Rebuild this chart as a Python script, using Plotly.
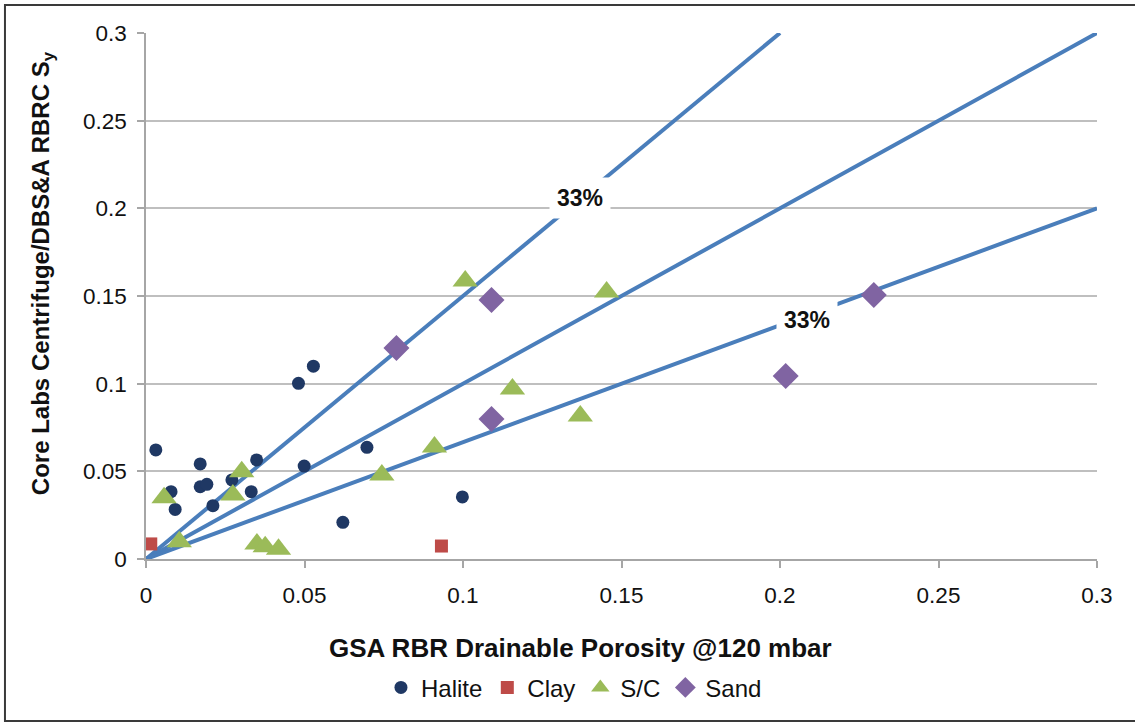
import plotly.graph_objects as go

# ---- data ----
halite_x = [0.0031, 0.0079, 0.0092, 0.0171, 0.0171, 0.0192, 0.0211, 0.0271, 0.0332, 0.0349,
            0.0481, 0.0528, 0.0499, 0.0621, 0.0697, 0.0998]
halite_y = [0.0622, 0.0384, 0.0283, 0.0542, 0.0412, 0.0426, 0.0304, 0.0451, 0.0384, 0.0565,
            0.1002, 0.1100, 0.0530, 0.0209, 0.0637, 0.0354]

clay_x = [0.0015, 0.0932]
clay_y = [0.0086, 0.0074]

sc_x = [0.0057, 0.0105, 0.0302, 0.0274, 0.0350, 0.0376, 0.0418, 0.0744, 0.0910, 0.1007,
        0.1156, 0.1370, 0.1453]
sc_y = [0.0350, 0.0099, 0.0498, 0.0365, 0.0086, 0.0070, 0.0055, 0.0479, 0.0639, 0.1586,
        0.0970, 0.0816, 0.1523]

sand_x = [0.0790, 0.1090, 0.1090, 0.2018, 0.2296]
sand_y = [0.1203, 0.1477, 0.0798, 0.1044, 0.1506]

# reference lines: 1:1 and +/-33% envelopes (end points)
line_upper_x = [0, 0.2]
line_upper_y = [0, 0.3]
line_mid_x = [0, 0.3]
line_mid_y = [0, 0.3]
line_lower_x = [0, 0.3]
line_lower_y = [0, 0.2]

label_text = "33%"
label_pos = [(0.137, 0.206), (0.2084, 0.1363)]

x_ticks = [0, 0.05, 0.1, 0.15, 0.2, 0.25, 0.3]
x_ticktext = ["0", "0.05", "0.1", "0.15", "0.2", "0.25", "0.3"]
y_ticks = [0, 0.05, 0.1, 0.15, 0.2, 0.25, 0.3]
y_ticktext = ["0", "0.05", "0.1", "0.15", "0.2", "0.25", "0.3"]

x_title = "GSA RBR Drainable Porosity @120 mbar"
y_title = "Core Labs Centrifuge/DBS&amp;A RBRC S<sub>y</sub>"

FONT = "Liberation Sans, Arial, sans-serif"
LINE_COLOR = "#4A7EBB"

fig = go.Figure()

for lx, ly in [(line_upper_x, line_upper_y), (line_mid_x, line_mid_y), (line_lower_x, line_lower_y)]:
    fig.add_trace(go.Scatter(x=lx, y=ly, mode="lines", line=dict(color=LINE_COLOR, width=4),
                             showlegend=False, hoverinfo="skip", cliponaxis=True))

fig.add_trace(go.Scatter(x=halite_x, y=halite_y, mode="markers", name="Halite",
                         marker=dict(symbol="circle", size=13, color="#1F3864")))
fig.add_trace(go.Scatter(x=clay_x, y=clay_y, mode="markers", name="Clay",
                         marker=dict(symbol="square", size=13, color="#BE4B48")))
fig.add_trace(go.Scatter(x=sc_x, y=sc_y, mode="markers", name="S/C",
                         marker=dict(symbol="triangle-up", size=22, color="#9BBB59")))
fig.add_trace(go.Scatter(x=sand_x, y=sand_y, mode="markers", name="Sand",
                         marker=dict(symbol="diamond", size=20, color="#8064A2")))

for (ax_, ay_) in label_pos:
    fig.add_annotation(x=ax_, y=ay_, xref="x", yref="y", text="<b>%s</b>" % label_text,
                       showarrow=False, bgcolor="white", borderpad=7,
                       font=dict(family=FONT, size=23, color="#111111"))

# axis titles as annotations
fig.add_annotation(x=0.457, y=-0.169, xref="paper", yref="paper", text="<b>%s</b>" % x_title,
                   showarrow=False, xanchor="center", yanchor="middle",
                   font=dict(family=FONT, size=26, color="#111111"))
fig.add_annotation(x=-0.108, y=0.544, xref="paper", yref="paper", text="<b>%s</b>" % y_title,
                   showarrow=False, xanchor="center", yanchor="middle", textangle=-90,
                   font=dict(family=FONT, size=24, color="#111111"))

# outer frame
fig.add_shape(type="rect", xref="paper", yref="paper", x0=-0.1483, x1=1.045, y0=-0.308, y1=1.0532,
              line=dict(color="#3A3A3A", width=2), fillcolor="rgba(0,0,0,0)", layer="above")

fig.update_layout(
    width=1135, height=723,
    margin=dict(l=146, r=38, t=33, b=164),
    paper_bgcolor="white", plot_bgcolor="white",
    font=dict(family=FONT, size=22, color="#111111"),
    showlegend=True,
    legend=dict(orientation="h", x=0.45, xanchor="center", y=-0.245, yanchor="middle",
                font=dict(family=FONT, size=24, color="#111111"), itemwidth=30,
                tracegroupgap=0, bgcolor="rgba(0,0,0,0)"),
    xaxis=dict(range=[0, 0.3], tickvals=x_ticks, ticktext=x_ticktext, showgrid=False,
               zeroline=False, showline=True, linecolor="#A6A6A6", linewidth=1.5,
               ticks="outside", ticklen=7, tickcolor="#A6A6A6", tickwidth=1.5,
               ticklabelstandoff=8, tickfont=dict(family=FONT, size=22.5, color="#111111")),
    yaxis=dict(range=[0, 0.3], tickvals=y_ticks, ticktext=y_ticktext, showgrid=True,
               gridcolor="#BFBFBF", gridwidth=1.5, zeroline=False, showline=True,
               linecolor="#A6A6A6", linewidth=1.5, ticks="outside", ticklen=7,
               tickcolor="#A6A6A6", tickwidth=1.5, ticklabelstandoff=6,
               tickfont=dict(family=FONT, size=22.5, color="#111111")),
)

fig.write_html("out.html", config={"displayModeBar": False},
               post_script="document.body.style.margin='0';")
